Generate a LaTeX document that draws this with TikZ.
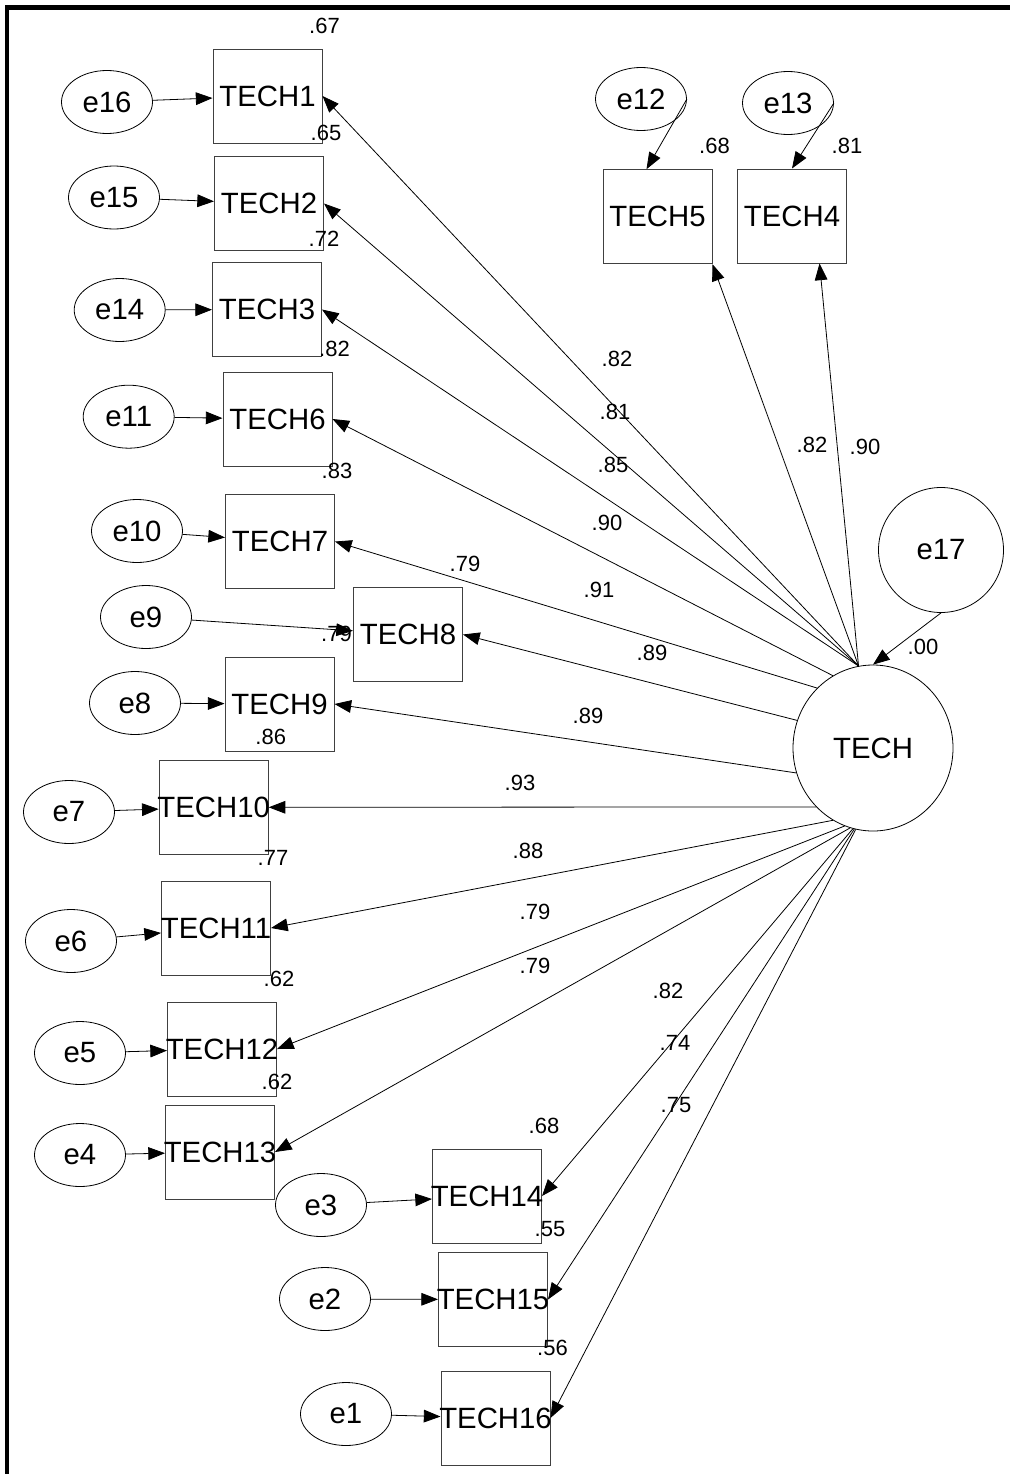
\documentclass[tikz,border=0pt]{standalone}
\usepackage{fontspec}
\setmainfont{Liberation Sans}
\usetikzlibrary{arrows.meta,calc,shapes.geometric}

\tikzset{
  obs/.style={draw=black!75, line width=0.75pt, minimum width=81.75pt, minimum height=70.5pt,
    inner xsep=-4pt, inner ysep=0pt, font=\fontsize{22}{24}\selectfont},
  err/.style={draw, ellipse, line width=0.6pt, minimum width=68.25pt, minimum height=47.25pt,
    inner sep=0pt, font=\fontsize{22}{24}\selectfont},
  lat/.style={draw, ellipse, line width=0.6pt, inner sep=0pt, font=\fontsize{22}{24}\selectfont},
  load/.style={-{Triangle[length=12.5pt,width=9.5pt]}, line width=0.6pt},
  rsq/.style={inner sep=0pt, font=\fontsize{16.5}{18}\selectfont},
  wt/.style={inner sep=0pt, font=\fontsize{16.5}{18}\selectfont},
}

\begin{document}
\begin{tikzpicture}[x=0.75pt, y=-0.75pt]
  \useasboundingbox (0,0) rectangle (1010,1474);
  \draw[line width=3.4pt] (7,1474) -- (7,7.5) -- (1010,7.5);

  \node[obs] (t1) at (267.5,96) {TECH1};
  \node[obs] (t2) at (269,203.5) {TECH2};
  \node[obs] (t3) at (267,309.5) {TECH3};
  \node[obs] (t6) at (277.5,419) {TECH6};
  \node[obs] (t7) at (280,541.5) {TECH7};
  \node[obs] (t8) at (408,634.5) {TECH8};
  \node[obs] (t9) at (279.5,704) {TECH9};
  \node[obs] (t10) at (213.7,807.3) {TECH10};
  \node[obs] (t11) at (216,928) {TECH11};
  \node[obs] (t12) at (222,1049) {TECH12};
  \node[obs] (t13) at (220,1152) {TECH13};
  \node[obs] (t14) at (487,1196) {TECH14};
  \node[obs] (t15) at (493,1299.5) {TECH15};
  \node[obs] (t16) at (495.5,1418) {TECH16};
  \node[obs] (t5) at (657.5,216.7) {TECH5};
  \node[obs] (t4) at (792,216) {TECH4};

  \node[err] (e16) at (107,102) {e16};
  \node[err] (e15) at (114,197.5) {e15};
  \node[err] (e14) at (119.7,310) {e14};
  \node[err] (e11) at (128.7,416.7) {e11};
  \node[err] (e10) at (137,531) {e10};
  \node[err] (e9) at (146,617) {e9};
  \node[err] (e8) at (135,703) {e8};
  \node[err] (e7) at (69,812) {e7};
  \node[err] (e6) at (71,941) {e6};
  \node[err] (e5) at (80,1053) {e5};
  \node[err] (e4) at (80,1155) {e4};
  \node[err] (e3) at (321,1205) {e3};
  \node[err] (e2) at (325,1299) {e2};
  \node[err] (e1) at (346,1414) {e1};
  \node[err] (e12) at (641,99) {e12};
  \node[err] (e13) at (788,103) {e13};

  \node[lat, minimum width=120pt, minimum height=124.5pt] (tech) at (873,748) {TECH};
  \node[lat, minimum width=93.75pt, minimum height=93.75pt] (e17) at (941,550) {e17};

  \coordinate (t5in) at ($(t5.north west)!.4!(t5.north east)$);
  \coordinate (t4out) at ($(t4.south)!.5!(t4.south east)$);

  \path[load]
  (e16) edge (t1)
  (e15) edge (t2)
  (e14) edge (t3)
  (e11) edge (t6)
  (e10) edge (t7)
  (e9) edge (t8)
  (e8) edge (t9)
  (e7) edge (t10)
  (e6) edge (t11)
  (e5) edge (t12)
  (e4) edge (t13)
  (e3) edge (t14)
  (e2) edge (t15)
  (e1) edge (t16)
  (e12.east) edge (t5in)
  (e13.east) edge (t4.north)
  (e17.south) edge (tech.north)
  ;

  \path[load]
  (tech.100) edge (t1.east)
  (tech.100) edge (t2.east)
  (tech.100) edge (t3.east)
  (tech.119) edge (t6.east)
  (tech.133) edge (t7.east)
  (tech.160) edge (t8.east)
  (tech.198) edge (t9.east)
  (tech.226) edge (t10.east)
  (tech.241) edge (t11.east)
  (tech.250) edge (t12.east)
  (tech.254) edge (t13.east)
  (tech.256) edge (t14.east)
  (tech.257) edge (t15.east)
  (tech.258) edge (t16.east)
  (tech.100) edge (t5.south east)
  (tech.100) edge (t4out)
  ;

  \node[rsq] (r1) at ($(t1.north east)+(2,-23)$) {.67};
  \node[rsq] (r2) at ($(t2.north east)+(2,-23)$) {.65};
  \node[rsq] (r3) at ($(t3.north east)+(2,-23)$) {.72};
  \node[rsq] (r6) at ($(t6.north east)+(2,-23)$) {.82};
  \node[rsq] (r7) at ($(t7.north east)+(2,-23)$) {.83};
  \node[rsq] (r8) at ($(t8.north east)+(2,-23)$) {.79};
  \node[rsq] (r9) at ($(t9.north east)+(2,-23)$) {.79};
  \node[rsq] (r10) at ($(t10.north east)+(2,-23)$) {.86};
  \node[rsq] (r11) at ($(t11.north east)+(2,-23)$) {.77};
  \node[rsq] (r12) at ($(t12.north east)+(2,-23)$) {.62};
  \node[rsq] (r13) at ($(t13.north east)+(2,-23)$) {.62};
  \node[rsq] (r14) at ($(t14.north east)+(2,-23)$) {.68};
  \node[rsq] (r15) at ($(t15.north east)+(2,-23)$) {.55};
  \node[rsq] (r16) at ($(t16.north east)+(2,-23)$) {.56};
  \node[rsq] (r5) at ($(t5.north east)+(2,-23)$) {.68};
  \node[rsq] (r4) at ($(t4.north east)+(0,-23)$) {.81};
  \node[rsq] (rtech) at ($(tech.north)+(50,-18)$) {.00};

  \node[wt] (w1) at (617,359) {.82};
  \node[wt] (w2) at (615,412) {.81};
  \node[wt] (w3) at (613,465) {.85};
  \node[wt] (w6) at (607,523) {.90};
  \node[wt] (w7) at (599,590) {.91};
  \node[wt] (w8) at (652,653) {.89};
  \node[wt] (w9) at (588,716) {.89};
  \node[wt] (w10) at (520,783) {.93};
  \node[wt] (w11) at (528,851) {.88};
  \node[wt] (w12) at (535,912) {.79};
  \node[wt] (w13) at (535,966) {.79};
  \node[wt] (w14) at (668,991) {.82};
  \node[wt] (w15) at (675,1043) {.74};
  \node[wt] (w16) at (676,1105) {.75};
  \node[wt] (w5) at (812,445) {.82};
  \node[wt] (w4) at (865,447) {.90};
\end{tikzpicture}
\end{document}
